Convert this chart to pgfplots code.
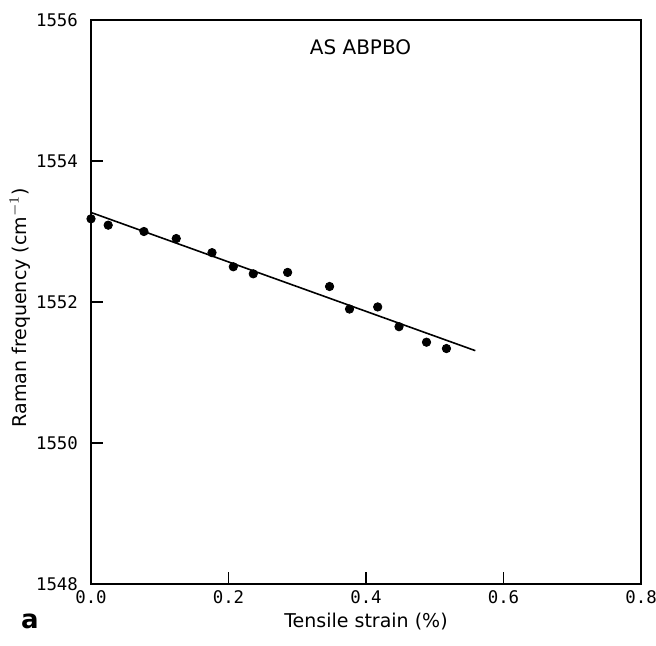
\documentclass[border=0pt]{standalone}
\usepackage{fontspec}
\setmainfont{DejaVu Sans}
\setsansfont{DejaVu Sans}
\setmonofont{DejaVu Sans Mono}
\usepackage{pgfplots}
\pgfplotsset{compat=1.18}
\begin{document}
\begin{tikzpicture}
\path[use as bounding box] (0,0) rectangle (328pt,322.5pt);
\begin{axis}[
  at={(45.5pt,30.5pt)}, anchor=south west,
  scale only axis, width=275pt, height=282pt,
  xmin=0, xmax=0.8, ymin=1548, ymax=1556,
  xtick={0,0.2,...,0.8}, ytick={1548,1550,...,1556},
  xticklabel style={/pgf/number format/fixed,/pgf/number format/zerofill,/pgf/number format/precision=1},
  yticklabel style={/pgf/number format/set thousands separator={}, xshift=-3pt},
  /pgf/number format/assume math mode=true,
  ticklabel style={font=\ttfamily\fontsize{8.7}{10}\selectfont},
  tick align=inside, tick pos=left, major tick length=6pt,
  tick style={black, line width=0.7pt},
  axis line style={line width=0.6pt},
  xlabel={Tensile strain (\%)},
  ylabel={Raman frequency (cm$^{-1}$)},
  label style={font=\fontsize{9.5}{10}\selectfont},
  xlabel style={at={(rel axis cs:0.5,0)}, anchor=center, yshift=-19pt},
  ylabel style={at={(rel axis cs:0,0.49)}, anchor=center, yshift=35.5pt},
  clip=false,
]
\addplot[only marks, mark=*, mark size=2.1pt, black] coordinates {
(0.000,1553.18) (0.025,1553.09) (0.077,1553.00) (0.124,1552.90)
(0.176,1552.70) (0.207,1552.50) (0.236,1552.40) (0.286,1552.42)
(0.347,1552.22) (0.376,1551.90) (0.417,1551.93) (0.448,1551.65)
(0.488,1551.43) (0.517,1551.34)
};
\addplot[black, line width=0.8pt] coordinates {(0,1553.27) (0.559,1551.31)};
\node[font=\fontsize{10}{12}\selectfont] at (rel axis cs:0.49,0.952) {AS ABPBO};
\node[font=\bfseries\fontsize{13}{14}\selectfont] at (rel axis cs:-0.111,-0.067) {a};
\end{axis}
\end{tikzpicture}
\end{document}
